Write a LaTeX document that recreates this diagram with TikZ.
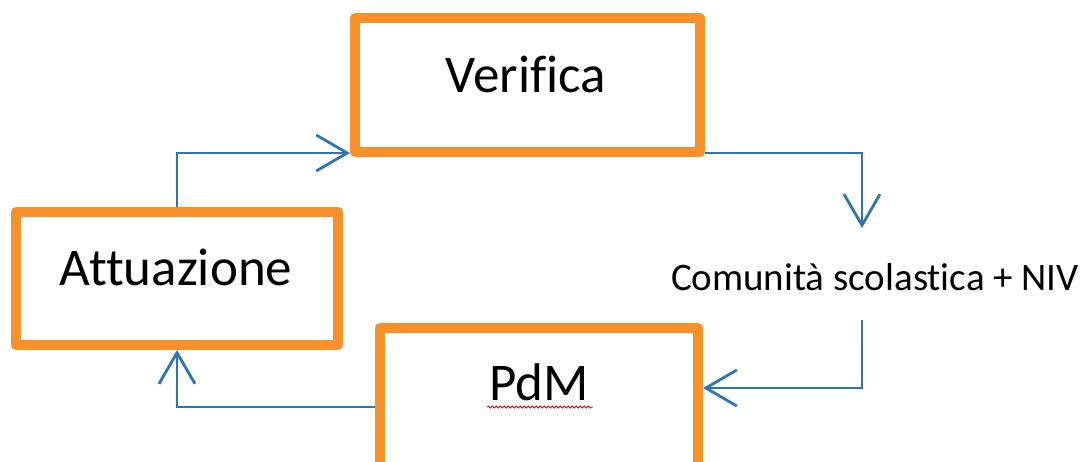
\documentclass[tikz,border=0pt]{standalone}
\usepackage{fontspec}
\setmainfont{Carlito}[RawFeature={-liga;-clig;-calt;-dlig}]
\usetikzlibrary{arrows.meta,decorations.pathmorphing}
\definecolor{boxorange}{RGB}{248,145,42}
\definecolor{flowblue}{RGB}{46,117,182}
\tikzset{
  stage/.style={draw=boxorange, line width=10pt, line join=round, fill=white, inner sep=0pt},
  stagelabel/.style={font=\fontsize{53}{60}\selectfont, text=black, anchor=base, inner sep=0pt},
  sidelabel/.style={font=\fontsize{39}{46}\selectfont, text=black, anchor=base, inner sep=0pt},
  flow/.style={draw=flowblue, line width=2.8pt, -{Straight Barb[length=31pt,width=36pt]}},
  spellmark/.style={draw=red!85!black, line width=0.8pt, decorate,
    decoration={snake, segment length=4pt, amplitude=1pt}},
}
\begin{document}
\begin{tikzpicture}[x=1pt,y=-1pt]
\useasboundingbox (0,0) rectangle (1086,461);
\clip (0,0) rectangle (1086,461);

% the three stages of the cycle
\node[stage, minimum width=345pt, minimum height=134pt] (ver) at (527.5,85) {};
\node[stage, minimum width=322pt, minimum height=133pt] (att) at (177,278.5) {};
\node[stage, minimum width=318pt, minimum height=152pt] (pdm) at (539,404) {};

% labels
\node[stagelabel] (verlbl) at (526,92) {Verifica};
\node[stagelabel] (attlbl) at (176,285) {Attuazione};
\node[stagelabel] (pdmlbl) at (539,400) {PdM};
\node[sidelabel] (com) at (875,290) {Comunità scolastica + NIV};

% free ends of the connectors around the side label
\coordinate (comin) at (862,228);
\coordinate (comout) at (862,320);

% connectors
\draw[flow] (att.north) |- ([yshift=4pt]ver.south west);
\draw[flow] ([yshift=4pt]ver.south east) -| (comin);
\draw[flow] (comout) |- ([yshift=-65pt]pdm.north east);
\draw[flow] ([yshift=-84pt]pdm.north west) -| (att.south);

% wavy underline below PdM
\coordinate (wl) at (487,407);
\coordinate (wr) at (593,407);
\draw[spellmark] (wl) -- (wr);
\end{tikzpicture}
\end{document}
